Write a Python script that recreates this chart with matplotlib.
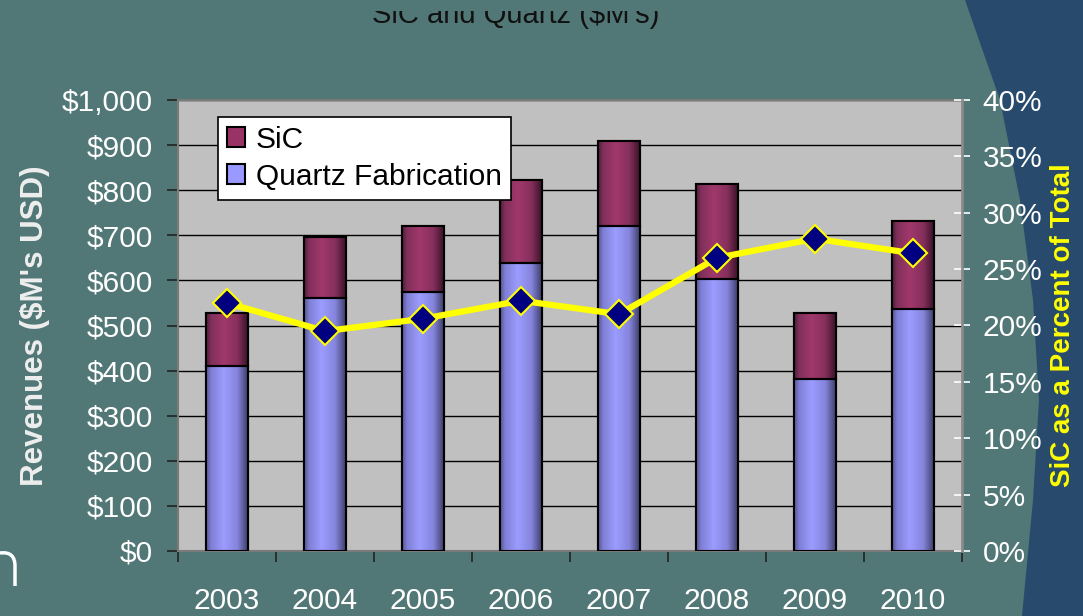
import numpy as np
import matplotlib
matplotlib.use("Agg")
import matplotlib.pyplot as plt
from matplotlib.colors import LinearSegmentedColormap
from matplotlib.patches import Polygon, Patch, Rectangle
from matplotlib.path import Path
from matplotlib.patches import PathPatch

plt.rcParams["font.family"] = ["Liberation Sans", "DejaVu Sans"]

# ─── data ───────────────────────────────────────────────────────────────────
years   = ["2003", "2004", "2005", "2006", "2007", "2008", "2009", "2010"]
quartz  = [410, 561, 574, 638, 720, 603, 381, 536]     # $M
sic     = [118, 135, 146, 184, 189, 210, 147, 195]     # $M
sic_pct = [22.0, 19.5, 20.6, 22.2, 21.0, 26.0, 27.7, 26.4]  # % of total

# ─── colours ────────────────────────────────────────────────────────────────
BG      = "#517876"
PLOT_BG = "#c0c0c0"
SWOOSH  = "#284a6c"

W, H = 1083, 616
fig = plt.figure(figsize=(W / 100, H / 100), dpi=100)
fig.patch.set_facecolor(BG)

# dark blue swoosh on the right edge (figure pixel coords -> fraction)
sw = [(965, 0), (1000, 100), (1020, 200), (1033, 300), (1039, 400),
      (1033, 500), (1022, 616), (1083, 616), (1083, 0)]
fig.patches.append(Polygon([(x / W, 1 - y / H) for x, y in sw], closed=True,
                           transform=fig.transFigure, facecolor=SWOOSH,
                           edgecolor="none", zorder=-2))

# little white arc at bottom left
arc = Path([(0 / W, 1 - 553 / H), (15 / W, 1 - 551 / H), (15 / W, 1 - 566 / H),
            (15 / W, 1 - 586 / H)],
           [Path.MOVETO, Path.CURVE3, Path.CURVE3, Path.LINETO])
fig.patches.append(PathPatch(arc, transform=fig.transFigure, fill=False,
                             edgecolor="white", lw=2.5, zorder=-1))

# title, only its lower part shows in the slide crop
fig.text(516 / W, 1 - 23 / H, "SiC and Quartz ($M's)", ha="center",
         va="baseline", fontsize=21, color="#111111", zorder=1)
fig.patches.append(Rectangle((0, 1 - 11 / H), 960 / W, 11 / H,
                             transform=fig.transFigure, facecolor=BG,
                             edgecolor="none", zorder=2))

left, right, top, bottom = 178, 962, 100, 551
ax = fig.add_axes([left / W, 1 - bottom / H, (right - left) / W, (bottom - top) / H])
ax.set_facecolor(PLOT_BG)

x = np.arange(len(years))
bw = 0.42

# gridlines
ax.set_axisbelow(True)
ax.yaxis.grid(True, color="black", lw=1)

b_q = ax.bar(x, quartz, bw, color="#9999ff", edgecolor="black", lw=1.5, zorder=2)
b_s = ax.bar(x, sic, bw, bottom=quartz, color="#993366", edgecolor="black",
             lw=1.5, zorder=2)

# cylinder shading on every bar
cm_q = LinearSegmentedColormap.from_list(
    "q", [(0, "#55558f"), (0.12, "#7f7fd6"), (0.42, "#9c9cff"),
          (0.75, "#8585dd"), (1, "#3e3e6a")])
cm_s = LinearSegmentedColormap.from_list(
    "s", [(0, "#4f1c37"), (0.12, "#80305a"), (0.42, "#a1386c"),
          (0.75, "#86305c"), (1, "#3a1228")])
grad = np.linspace(0, 1, 200).reshape(1, -1)
for bars, cm in ((b_q, cm_q), (b_s, cm_s)):
    for r in bars:
        x0, y0 = r.get_x(), r.get_y()
        im = ax.imshow(grad, cmap=cm, aspect="auto", zorder=2.5,
                       extent=(x0, x0 + r.get_width(), y0, y0 + r.get_height()))
        im.set_clip_path(r)
        ax.add_patch(Rectangle((x0, y0), r.get_width(), r.get_height(),
                               fill=False, edgecolor="black", lw=1.5, zorder=3))

ax.set_xlim(-0.5, len(years) - 0.5)
ax.set_ylim(0, 1000)

# x axis: labels centred, tick marks at the category boundaries
ax.set_xticks(x)
ax.set_xticklabels(years)
ax.set_xticks(np.arange(-0.5, len(years)), minor=True)
ax.tick_params(axis="x", which="major", length=0, pad=26, labelsize=21.5,
               labelcolor="white")
ax.tick_params(axis="x", which="minor", length=8, width=1.2, color="#222222",
               direction="out")

ax.set_yticks(np.arange(0, 1001, 100))
ax.set_yticklabels([f"${v:,.0f}" for v in range(0, 1001, 100)])
ax.tick_params(axis="y", length=8, width=1.2, color="#222222", pad=10,
               labelsize=21.5, labelcolor="white")
ax.set_ylabel("Revenues ($M's USD)", fontsize=22.5, fontweight="bold",
              color="#eeeeee")
ax.yaxis.set_label_coords(-0.163, 0.5)

for s in ("top", "left", "bottom"):
    ax.spines[s].set_color("#7a7a7a")
    ax.spines[s].set_linewidth(1.5)
ax.spines["right"].set_visible(False)

leg = ax.legend([Patch(facecolor="#993366", edgecolor="black", lw=1.5),
                 Patch(facecolor="#9999ff", edgecolor="black", lw=1.5)],
                ["SiC", "Quartz Fabrication"],
                loc="upper left", bbox_to_anchor=(0.051, 0.963),
                fontsize=21.5, frameon=True, fancybox=False, framealpha=1,
                edgecolor="black", handlelength=0.62, handleheight=0.62,
                handletextpad=0.35, labelspacing=0.3, borderpad=0.3,
                borderaxespad=0)
leg.get_frame().set_linewidth(1.2)
leg.set_zorder(5)

# secondary axis: SiC share
ax2 = ax.twinx()
ax2.plot(x, sic_pct, color="#ffff00", lw=4.5, marker="D", markersize=14,
         markerfacecolor="#000080", markeredgecolor="#ffff00",
         markeredgewidth=1.5, zorder=4)
ax2.set_ylim(0, 40)
ax2.set_yticks(np.arange(0, 41, 5))
ax2.set_yticklabels([f"{v}%" for v in range(0, 41, 5)])
ax2.tick_params(axis="y", length=12, width=1.2, color="white", direction="inout",
                pad=9, labelsize=21.5, labelcolor="white")
ax2.set_ylabel("SiC as a Percent of Total", fontsize=20, fontweight="bold",
               color="#ffff00", rotation=90)
ax2.yaxis.set_label_coords(1.112, 0.5)
for s in ("top", "left", "bottom"):
    ax2.spines[s].set_visible(False)
ax2.spines["right"].set_color("#8a8a8a")
ax2.spines["right"].set_linewidth(2)

fig.savefig("out.png", dpi=100, facecolor=fig.get_facecolor())
